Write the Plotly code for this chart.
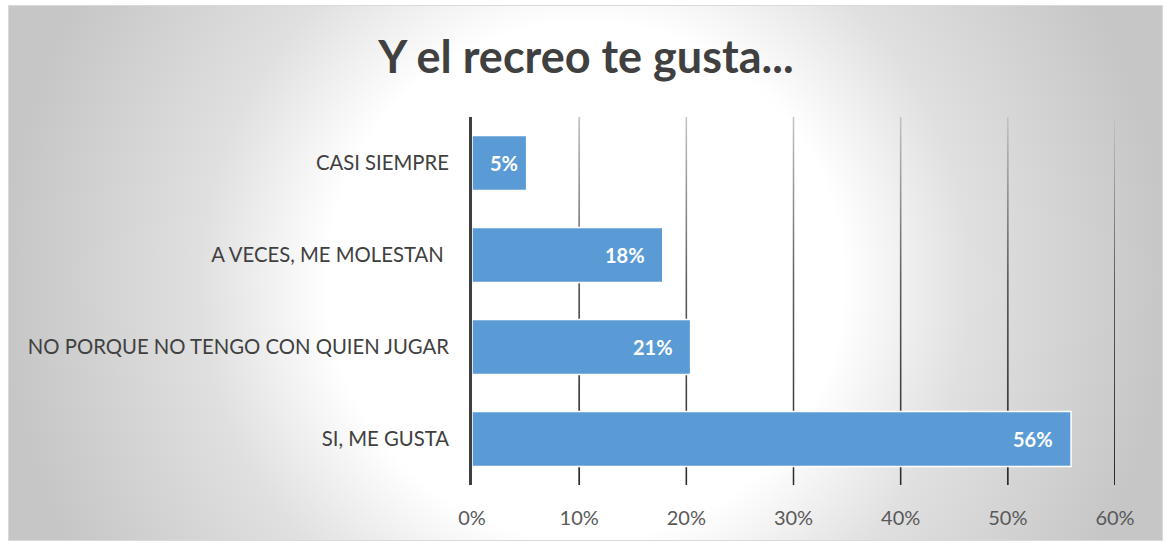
import base64
import plotly.graph_objects as go

# ---- data (bottom to top, as in the source sheet) ----
categories = ["SI, ME GUSTA", "NO PORQUE NO TENGO CON QUIEN JUGAR", "A VECES, ME MOLESTAN\u00a0", "CASI SIEMPRE"]
values = [0.559, 0.204, 0.178, 0.051]
value_labels = ["56%", "21%", "18%", "5%"]
tick_values = [0, 0.1, 0.2, 0.3, 0.4, 0.5, 0.6]
tick_labels = ["0%", "10%", "20%", "30%", "40%", "50%", "60%"]
title_text = "Y el recreo te gusta..."

# ---- layout constants ----
W, H = 1166, 543
ML, MR, MT, MB = 472, 51, 117, 58
PW, PH = W - ML - MR, H - MT - MB
FRAME = (8, 5, 1163, 541)  # x0, y0, x1, y1 in px
FONT = "Lato"
BAR_COLOR = "#5b9bd5"


def svg_uri(svg):
    return "data:image/svg+xml;base64," + base64.b64encode(svg.encode()).decode()


fw, fh = FRAME[2] - FRAME[0], FRAME[3] - FRAME[1]
bg_svg = f"""<svg xmlns='http://www.w3.org/2000/svg' width='{fw}' height='{fh}' viewBox='0 0 {fw} {fh}'>
<defs><radialGradient id='g' gradientUnits='userSpaceOnUse' cx='{fw/2:.1f}' cy='{fh/2+8:.1f}' r='600'>
<stop offset='0' stop-color='#ffffff'/><stop offset='0.43' stop-color='#ffffff'/>
<stop offset='0.64' stop-color='#e0e0e0'/><stop offset='0.97' stop-color='#c6c6c6'/>
<stop offset='1' stop-color='#c6c6c6'/></radialGradient></defs>
<rect x='0.5' y='0.5' width='{fw-1}' height='{fh-1}' fill='url(#g)' stroke='#d9d9d9' stroke-width='1'/>
</svg>"""

grid_svg = """<svg xmlns='http://www.w3.org/2000/svg' width='2' height='368' viewBox='0 0 2 368' preserveAspectRatio='none'>
<defs><linearGradient id='l' x1='0' y1='0' x2='0' y2='1'>
<stop offset='0' stop-color='#c4c4c4'/><stop offset='0.45' stop-color='#5c5c5c'/>
<stop offset='1' stop-color='#2b2b2b'/></linearGradient></defs>
<rect x='0' y='0' width='2' height='368' fill='url(#l)'/></svg>"""

images = [dict(
    source=svg_uri(bg_svg), xref="paper", yref="paper",
    x=(FRAME[0] - ML) / PW, y=(H - MB - FRAME[1]) / PH,
    sizex=fw / PW, sizey=fh / PH, xanchor="left", yanchor="top",
    sizing="stretch", layer="below",
)]
x_range = [tick_values[0], tick_values[-1]]
px_to_data = (x_range[1] - x_range[0]) / PW
for t in tick_values[1:]:
    images.append(dict(
        source=svg_uri(grid_svg), xref="x", yref="y",
        x=t, y=len(categories) - 0.5, sizex=2 * px_to_data, sizey=len(categories),
        xanchor="center", yanchor="top", sizing="stretch", layer="below",
    ))

fig = go.Figure(go.Bar(
    x=values, y=categories, orientation="h",
    marker=dict(color=BAR_COLOR, line=dict(color="#ffffff", width=1.5)),
    width=0.6, hoverinfo="skip",
))

annotations = []
for v, c, lab in zip(values, categories, value_labels):
    annotations.append(dict(
        x=v, y=c, xref="x", yref="y", text=f"<b>{lab}</b>", showarrow=False,
        xanchor="right", yanchor="middle", xshift=-16 if v > 0.1 else -7,
        font=dict(family=FONT, size=20, color="#ffffff"),
    ))

fig.update_layout(
    width=W, height=H,
    margin=dict(l=ML, r=MR, t=MT, b=MB),
    paper_bgcolor="#ffffff", plot_bgcolor="rgba(0,0,0,0)",
    showlegend=False,
    images=images,
    annotations=annotations,
    title=dict(
        text=f"<b>{title_text}</b>", xref="container", yref="container",
        x=586 / W, y=1 - 57 / H, xanchor="center", yanchor="middle",
        font=dict(family=FONT, size=45, color="#404040"),
    ),
    xaxis=dict(
        range=x_range, tickvals=tick_values, ticktext=tick_labels,
        showgrid=False, zeroline=False, showline=False, ticks="",
        ticklabelstandoff=19, fixedrange=True,
        tickfont=dict(family=FONT, size=20, color="#595959"),
    ),
    yaxis=dict(
        categoryorder="array", categoryarray=categories,
        range=[-0.5, len(categories) - 0.5],
        showgrid=False, zeroline=False, showline=True, linecolor="#404040", linewidth=3,
        ticks="", ticklabelstandoff=16, fixedrange=True,
        tickfont=dict(family=FONT, size=20.3, color="#404040"),
    ),
    bargap=0.4,
)

fig.write_html(
    "out.html",
    config={"displayModeBar": False},
    post_script="document.body.style.margin='0px';document.body.style.overflow='hidden';",
)
